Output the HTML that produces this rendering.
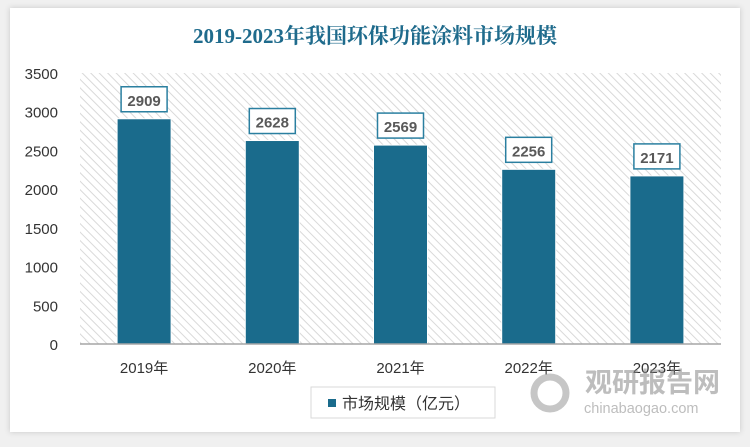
<!DOCTYPE html>
<html><head><meta charset="utf-8"><style>
body{margin:0;width:750px;height:442px;background:#f0f0f0;overflow:hidden;font-family:"Liberation Sans","Noto Sans CJK SC",sans-serif}
</style></head><body>
<svg width="750" height="442" xmlns="http://www.w3.org/2000/svg">
<defs>
<pattern id="hatch" width="6" height="6" patternUnits="userSpaceOnUse" patternTransform="rotate(-45)">
<rect width="6" height="6" fill="#fff"/><line x1="0" y1="0" x2="0" y2="6" stroke="#d9d9d9" stroke-width="2"/></pattern>
<filter id="sh" x="-5%" y="-5%" width="110%" height="110%"><feDropShadow dx="0" dy="0" stdDeviation="3" flood-color="#000" flood-opacity="0.18"/></filter>
</defs>
<rect x="10" y="8" width="730" height="424" fill="#fff" filter="url(#sh)"/>
<text x="375" y="43" text-anchor="middle" font-family="'Liberation Serif','Noto Serif CJK SC',serif" font-weight="bold" font-size="21" fill="#1f6b8c">2019-2023年我国环保功能涂料市场规模</text>
<rect x="80" y="73" width="641" height="271" fill="url(#hatch)"/>
<g id="yaxis"></g><g id="bars"></g><g id="xaxis"></g>
<line x1="80" y1="344" x2="721" y2="344" stroke="#a6a6a6" stroke-width="1.5"/>
<rect x="311" y="387" width="184" height="31" fill="#fff" stroke="#d9d9d9"/>
<rect x="328" y="399" width="8" height="8" fill="#1a6b8c"/>
<text x="342" y="409" font-size="16" fill="#333">市场规模（亿元）</text>
<g opacity="0.55">
<circle cx="550" cy="393" r="16" fill="none" stroke="#999" stroke-width="7"/>
<text x="585" y="392" font-size="27" font-weight="bold" fill="#888">观研报告网</text>
<text x="584" y="413" font-size="14.5" fill="#888">chinabaogao.com</text>
</g>
</svg>
<script>
const categories=["2019年","2020年","2021年","2022年","2023年"];
const values=[2909,2628,2569,2256,2171];
const yTicks=[0,500,1000,1500,2000,2500,3000,3500];
const NS="http://www.w3.org/2000/svg";
const x0=80,x1=721,y0=344,y1=73,yMax=3500;
const y=v=>y0-(v/yMax)*(y0-y1);
const band=(x1-x0)/categories.length;
const xc=i=>x0+band*(i+0.5);
function mk(t,a,p,txt){const e=document.createElementNS(NS,t);for(const k in a)e.setAttribute(k,a[k]);if(txt!=null)e.textContent=txt;p.appendChild(e);return e;}
const ya=document.getElementById('yaxis');
yTicks.forEach(v=>{const t=mk('text',{x:58,y:y(v)+6,'text-anchor':'end','font-size':'15',fill:'#333'},ya,v);

});
const bg=document.getElementById('bars'),xa=document.getElementById('xaxis');
values.forEach((v,i)=>{
const w=54,cx=xc(i);
const r=mk('rect',{x:cx-w/2,y:y(v),width:w,height:y0-y(v),fill:'#1a6b8c',stroke:'#fff','stroke-width':'1'},bg);


const b=mk('rect',{x:cx-23,y:y(v)-32,width:46,height:25,fill:'#fff',stroke:'#2a7fa0','stroke-width':'1.5'},bg);


const t=mk('text',{x:cx,y:y(v)-13,'text-anchor':'middle','font-size':'15','font-weight':'bold',fill:'#595959'},bg,v);


const xl=mk('text',{x:cx,y:373,'text-anchor':'middle','font-size':'15',fill:'#333'},xa,categories[i]);


});
</script>
</body></html>
